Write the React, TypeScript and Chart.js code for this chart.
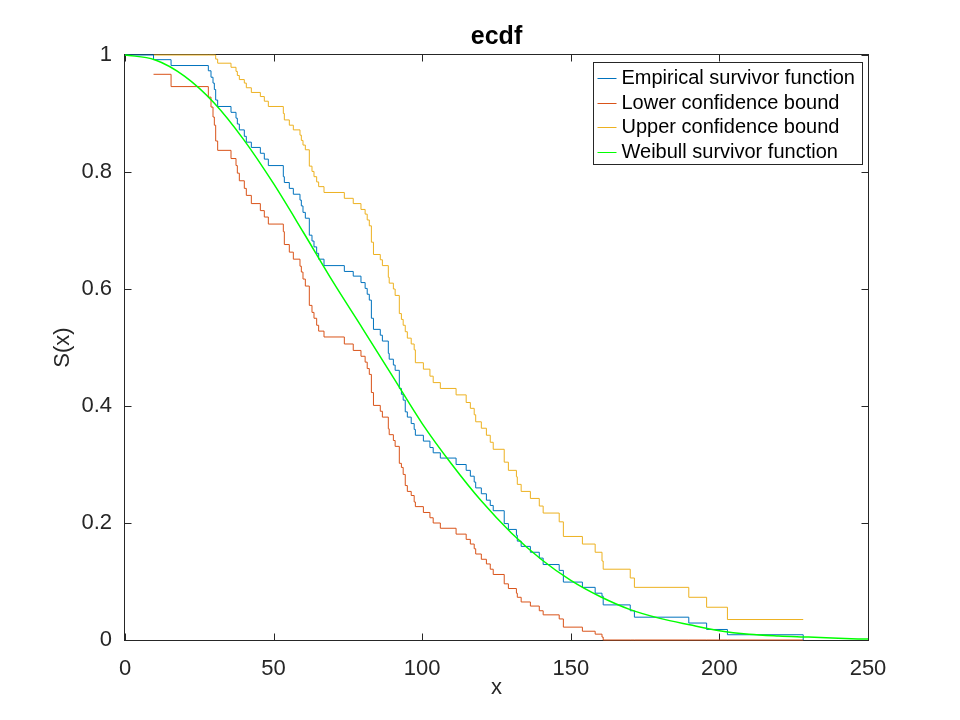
import React, { useEffect, useRef } from 'react';
import { Chart, registerables } from 'chart.js';

Chart.register(...registerables);

// jump points shared by the empirical curve and its bounds
const jumpX = [
  0, 9.6, 15.5, 28.04, 28.94, 29.61, 30.06, 30.51, 31.18, 35.67, 37.35, 37.8, 38.47, 40.15, 40.82,
  42.51, 45.54, 46.88, 48.23, 53.27, 53.61, 55.29, 56.64, 58.88, 59.33, 59.89, 60.68, 62.02, 62.92,
  63.59, 64.49, 65.16, 66.96, 73.8, 76.8, 79.4, 80.8, 81.5, 82.2, 82.9, 83.6, 85.9, 86.6, 88.6, 88.9,
  90.3, 90.9, 92.3, 93.0, 93.6, 94.3, 95.0, 96.3, 97.3, 97.7, 100.4, 102.6, 103.7, 106.1, 111.4,
  114.8, 116.2, 117.5, 118.0, 119.9, 121.6, 122.9, 123.9, 127.6, 129.0, 131.7, 132.0, 133.3, 136.4,
  139.4, 140.7, 146.1, 147.5, 153.9, 158.2, 160.5, 160.9, 170.0, 171.4, 189.7, 195.7, 202.7, 228.2,
];

const empirical = [
  1.0, 0.992, 0.982, 0.973, 0.962, 0.952, 0.941, 0.923, 0.912, 0.902, 0.892, 0.882, 0.872, 0.861,
  0.851, 0.842, 0.832, 0.822, 0.811, 0.792, 0.782, 0.772, 0.762, 0.752, 0.742, 0.731, 0.721, 0.692,
  0.682, 0.672, 0.661, 0.651, 0.64, 0.63, 0.622, 0.611, 0.601, 0.591, 0.581, 0.55, 0.531, 0.521,
  0.511, 0.49, 0.48, 0.47, 0.461, 0.43, 0.42, 0.41, 0.39, 0.381, 0.37, 0.36, 0.35, 0.34, 0.329,
  0.32, 0.311, 0.3, 0.29, 0.28, 0.27, 0.26, 0.25, 0.239, 0.23, 0.221, 0.199, 0.189, 0.179, 0.169,
  0.16, 0.15, 0.14, 0.129, 0.119, 0.099, 0.09, 0.08, 0.075, 0.06, 0.05, 0.039, 0.029, 0.018, 0.009, 0,
];

const lower = [
  null, 0.967, 0.946, 0.928, 0.911, 0.894, 0.88, 0.853, 0.837, 0.823, 0.811, 0.798, 0.785, 0.772,
  0.76, 0.746, 0.734, 0.723, 0.711, 0.698, 0.676, 0.663, 0.651, 0.639, 0.629, 0.617, 0.605, 0.572,
  0.56, 0.55, 0.538, 0.528, 0.518, 0.506, 0.495, 0.485, 0.475, 0.464, 0.454, 0.423, 0.401, 0.391,
  0.381, 0.361, 0.351, 0.341, 0.331, 0.302, 0.295, 0.283, 0.264, 0.254, 0.247, 0.236, 0.228, 0.218,
  0.209, 0.2, 0.191, 0.181, 0.172, 0.164, 0.156, 0.147, 0.138, 0.13, 0.121, 0.112, 0.096, 0.088,
  0.08, 0.073, 0.065, 0.058, 0.05, 0.043, 0.036, 0.022, 0.015, 0.01, 0.005, 0, 0, 0, 0, 0, 0, 0,
];

const upper = [
  null, 1.0, 1.0, 1.0, 1.0, 1.0, 1.0, 0.993, 0.986, 0.979, 0.972, 0.965, 0.958, 0.952, 0.944, 0.936,
  0.929, 0.921, 0.912, 0.9, 0.889, 0.88, 0.872, 0.863, 0.854, 0.846, 0.838, 0.81, 0.801, 0.792,
  0.783, 0.775, 0.765, 0.755, 0.746, 0.736, 0.728, 0.718, 0.708, 0.68, 0.659, 0.65, 0.64, 0.62,
  0.61, 0.6, 0.589, 0.558, 0.548, 0.538, 0.527, 0.516, 0.506, 0.496, 0.474, 0.463, 0.451, 0.44,
  0.43, 0.419, 0.406, 0.396, 0.385, 0.373, 0.362, 0.35, 0.338, 0.326, 0.304, 0.29, 0.279, 0.266,
  0.254, 0.242, 0.229, 0.217, 0.202, 0.177, 0.164, 0.15, 0.135, 0.121, 0.106, 0.09, 0.073, 0.056,
  0.035, 0.035,
];

// fitted weibull curve, read every 10 units
const weibullX = [
  0, 10, 20, 30, 40, 50, 60, 70, 80, 90, 100, 110, 120, 130, 140, 150, 160, 170, 180, 190, 200, 210,
  220, 230, 240, 250,
];
const weibullS = [
  1.0, 0.992, 0.964, 0.918, 0.855, 0.78, 0.697, 0.612, 0.532, 0.451, 0.37, 0.3, 0.237, 0.183, 0.138,
  0.102, 0.074, 0.052, 0.037, 0.026, 0.016, 0.01, 0.007, 0.005, 0.0028, 0.0015,
];

const xTicks = [0, 50, 100, 150, 200, 250];
const yTicks = [0, 0.2, 0.4, 0.6, 0.8, 1];

const FONT = "'Liberation Sans', Arial, Helvetica, sans-serif";
const AXIS = '#262626';

const pts = (xs: number[], ys: (number | null)[]) => xs.map((x, i) => ({ x, y: ys[i] }));

// octave style box with inward ticks on all four sides (drawn under the lines)
const octaveFrame = {
  id: 'octaveFrame',
  beforeDatasetsDraw(chart: any) {
    const { ctx, chartArea: a, scales } = chart;
    const L = Math.round(a.left) - 0.5;
    const R = Math.round(a.right) + 0.5;
    const T = Math.round(a.top) - 0.5;
    const B = Math.round(a.bottom) + 0.5;
    const tl = 7;
    ctx.save();
    ctx.strokeStyle = AXIS;
    ctx.lineWidth = 1;
    ctx.strokeRect(L, T, R - L, B - T);
    ctx.beginPath();
    xTicks.forEach(v => {
      const px = Math.round(scales.x.getPixelForValue(v)) + 0.5;
      ctx.moveTo(px, B); ctx.lineTo(px, B - tl);
      ctx.moveTo(px, T); ctx.lineTo(px, T + tl);
    });
    yTicks.forEach(v => {
      const py = Math.round(scales.y.getPixelForValue(v)) + 0.5;
      ctx.moveTo(L, py); ctx.lineTo(L + tl, py);
      ctx.moveTo(R, py); ctx.lineTo(R - tl, py);
    });
    ctx.stroke();
    ctx.restore();
  },
  afterDraw(chart: any) {
    const { ctx, chartArea: a } = chart;
    ctx.save();
    ctx.lineWidth = 1;
    ctx.font = `20px ${FONT}`;
    const rows = chart.data.datasets.map((d: any) => ({ label: d.label, color: d.borderColor }));
    const textW = Math.max(...rows.map((r: any) => ctx.measureText(r.label).width));
    const rowH = 24.6;
    const w = Math.round(28 + textW + 8);
    const h = 102;
    const right = Math.round(a.right) - 5.5;
    const top = Math.round(a.top) + 7.5;
    const left = right - w;
    ctx.fillStyle = '#ffffff';
    ctx.fillRect(left, top, w, h);
    ctx.strokeStyle = AXIS;
    ctx.strokeRect(left, top, w, h);
    ctx.textBaseline = 'middle';
    ctx.textAlign = 'left';
    rows.forEach((r: any, i: number) => {
      const cy = Math.round(top + 15.5 + i * rowH) + 0.5;
      ctx.strokeStyle = r.color;
      ctx.beginPath();
      ctx.moveTo(left + 4, cy);
      ctx.lineTo(left + 23, cy);
      ctx.stroke();
      ctx.fillStyle = '#000000';
      ctx.fillText(r.label, left + 28, cy);
    });
    ctx.restore();
  },
};

const App: React.FC = () => {
  const canvasRef = useRef<HTMLCanvasElement>(null);
  const chartRef = useRef<Chart | null>(null);

  useEffect(() => {
    document.body.style.margin = '0';
    if (!canvasRef.current) return;
    if (chartRef.current) chartRef.current.destroy();

    Chart.defaults.font.family = FONT;
    Chart.defaults.color = AXIS;

    const stepLine = (label: string, ys: (number | null)[], color: string, order: number) => ({
      label,
      data: pts(jumpX, ys),
      borderColor: color,
      backgroundColor: color,
      borderWidth: 1,
      pointRadius: 0,
      stepped: 'before' as const,
      spanGaps: false,
      clip: 2,
      order,
    });

    chartRef.current = new Chart(canvasRef.current, {
      type: 'line',
      data: {
        datasets: [
          stepLine('Empirical survivor function', empirical, '#0072BD', 2),
          stepLine('Lower confidence bound', lower, '#D95319', 3),
          stepLine('Upper confidence bound', upper, '#EDB120', 4),
          {
            label: 'Weibull survivor function',
            data: pts(weibullX, weibullS),
            borderColor: '#00FF00',
            backgroundColor: '#00FF00',
            borderWidth: 1.5,
            pointRadius: 0,
            cubicInterpolationMode: 'monotone',
            clip: 2,
            order: 1,
          },
        ],
      },
      options: {
        responsive: false,
        animation: false,
        parsing: false,
        layout: { padding: { top: 0, right: 92, bottom: 0, left: 0 } },
        plugins: {
          legend: { display: false },
          tooltip: { enabled: false },
          title: {
            display: true,
            text: 'ecdf',
            fullSize: false,
            color: '#000000',
            font: { size: 25, weight: 'bold', family: FONT },
            padding: { top: 22, bottom: 3 },
          },
        },
        scales: {
          x: {
            type: 'linear',
            min: 0,
            max: 250,
            afterBuildTicks: (s: any) => { s.ticks = xTicks.map(v => ({ value: v })); },
            afterFit: (s: any) => { s.height = 80; },
            grid: { display: false, drawTicks: false },
            border: { display: false },
            ticks: { padding: 16, maxRotation: 0, font: { size: 22 }, callback: (v: any) => String(v) },
            title: { display: true, text: 'x', font: { size: 22 }, padding: { top: 0, bottom: 19 } },
          },
          y: {
            type: 'linear',
            min: 0,
            max: 1,
            afterBuildTicks: (s: any) => { s.ticks = yTicks.map(v => ({ value: v })); },
            afterFit: (s: any) => { s.width = 125; },
            grid: { display: false, drawTicks: false },
            border: { display: false },
            ticks: { padding: 13, font: { size: 22 }, callback: (v: any) => String(v) },
            title: { display: true, text: 'S(x)', font: { size: 22 }, padding: { top: 50, bottom: 0 } },
          },
        },
      },
      plugins: [octaveFrame],
    } as any);

    return () => {
      if (chartRef.current) {
        chartRef.current.destroy();
        chartRef.current = null;
      }
    };
  }, []);

  return (
    <div style={{ width: 960, height: 720, background: '#ffffff' }}>
      <canvas ref={canvasRef} width={960} height={720} style={{ display: 'block' }} />
    </div>
  );
};

export default App;
